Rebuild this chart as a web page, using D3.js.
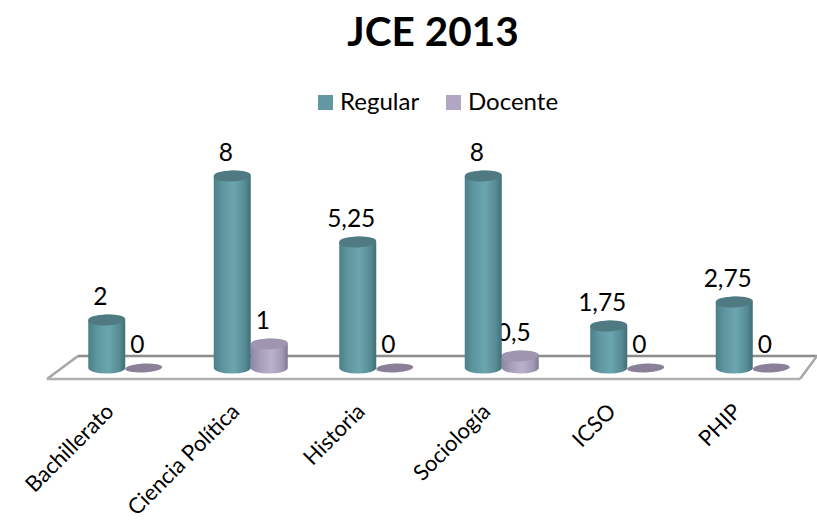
<!DOCTYPE html>
<html>
<head>
<meta charset="utf-8">
<script src="https://cdn.jsdelivr.net/npm/d3@7/dist/d3.min.js"></script>
<style>
  html, body { margin: 0; padding: 0; background: #fff; }
  text { font-family: Lato, "Open Sans", sans-serif; fill: #000; }
</style>
</head>
<body>
<div id="chart"></div>
<script>
var categories = ["Bachillerato", "Ciencia Política", "Historia", "Sociología", "ICSO", "PHIP"];
var regular = [2, 8, 5.25, 8, 1.75, 2.75];
var docente = [0, 1, 0, 0.5, 0, 0];
var seriesNames = ["Regular", "Docente"];

var width = 817, height = 526;
var baseY = 368;   // centre of the cylinder bases
var rx = 18.5, ry = 5.5;

var svg = d3.select("#chart").append("svg")
    .attr("width", width)
    .attr("height", height)
    .style("display", "block");

// side shading of the cylinders
function shade(id, stops) {
  var g = svg.append("defs").append("linearGradient").attr("id", id);
  stops.forEach(function(s) {
    g.append("stop").attr("offset", s[0]).attr("stop-color", s[1]);
  });
}
shade("gradRegular", [[0, "#4c8089"], [0.25, "#5f97a1"], [0.55, "#6ba5ae"], [0.85, "#558a93"], [1, "#3f6e76"]]);
shade("gradDocente", [[0, "#8f86a4"], [0.25, "#a79eba"], [0.55, "#bab2cc"], [0.85, "#a299b5"], [1, "#7f7694"]]);

var x0 = d3.scaleBand().domain(categories).range([62.5, 815.5]);
var x1 = d3.scaleBand().domain(seriesNames).range([x0.bandwidth() / 2 - 37, x0.bandwidth() / 2 + 37]);
var y = d3.scaleLinear().domain([0, 8]).range([baseY, 176]);

// floor of the 3d plot
var floor = [[47, 379], [78, 356], [817, 356], [800, 379]];
svg.append("path")
    .attr("d", d3.line()([floor[0], floor[1]]))
    .attr("fill", "none").attr("stroke", "#a6a6a6").attr("stroke-width", 2.5);
svg.append("path")
    .attr("d", d3.line()([floor[1], floor[2]]))
    .attr("fill", "none").attr("stroke", "#8c8c8c").attr("stroke-width", 2.5);
svg.append("path")
    .attr("d", d3.line()([floor[3], floor[0]]))
    .attr("fill", "none").attr("stroke", "#b0b0b0").attr("stroke-width", 2.5);
svg.append("path")
    .attr("d", d3.line()([floor[2], floor[3]]))
    .attr("fill", "none").attr("stroke", "#a6a6a6").attr("stroke-width", 2.5);

function cylinder(cx, topY) {
  return "M" + (cx - rx) + "," + topY +
    "L" + (cx - rx) + "," + baseY +
    "A" + rx + "," + ry + " 0 0 0 " + (cx + rx) + "," + baseY +
    "L" + (cx + rx) + "," + topY +
    "A" + rx + "," + ry + " 0 0 0 " + (cx - rx) + "," + topY + "Z";
}

function drawSeries(name, values, grad, topColor, zeroColor) {
  var g = svg.append("g").attr("class", "series-" + name);
  var items = g.selectAll("g").data(values).enter().append("g");

  items.each(function(d, i) {
    var cx = x0(categories[i]) + x1(name) + x1.bandwidth() / 2;
    var sel = d3.select(this);
    if (d > 0) {
      sel.append("path")
          .attr("d", cylinder(cx, y(d)))
          .attr("fill", "url(#" + grad + ")");
    }
    sel.append("ellipse")
        .attr("cx", cx).attr("cy", y(d))
        .attr("rx", rx).attr("ry", d > 0 ? ry : 4.5)
        .attr("transform", "rotate(-3 " + cx + " " + y(d) + ")")
        .attr("fill", d > 0 ? topColor : zeroColor);
    sel.append("text")
        .attr("x", cx - 6.5)
        .attr("y", y(d) - 15)
        .attr("text-anchor", "middle")
        .attr("font-size", 24.5)
        .text(String(d).replace(".", ","));
  });
}

drawSeries("Docente", docente, "gradDocente", "#a095b0", "#8a8098");
drawSeries("Regular", regular, "gradRegular", "#4f7a82", "#4f7a82");

// category labels
svg.append("g").selectAll("text")
    .data(categories)
  .enter().append("text")
    .attr("transform", function(d) {
      return "translate(" + (x0(d) + x0.bandwidth() / 2 - 21) + ",402) rotate(-45)";
    })
    .attr("text-anchor", "end")
    .attr("dy", "0.7em")
    .attr("font-size", 22)
    .text(function(d) { return d; });

// title
svg.append("text")
    .attr("x", 433).attr("y", 46)
    .attr("text-anchor", "middle")
    .attr("font-size", 40.5)
    .attr("font-weight", "bold")
    .text("JCE 2013");

// legend
var legendColors = ["#6398a3", "#b1a6c3"];
var legendX = [318, 446];
seriesNames.forEach(function(name, i) {
  svg.append("rect")
      .attr("x", legendX[i]).attr("y", 95)
      .attr("width", 15).attr("height", 15)
      .attr("fill", legendColors[i]);
  svg.append("text")
      .attr("x", legendX[i] + 22).attr("y", 110)
      .attr("font-size", 24)
      .text(name);
});
</script>
</body>
</html>
